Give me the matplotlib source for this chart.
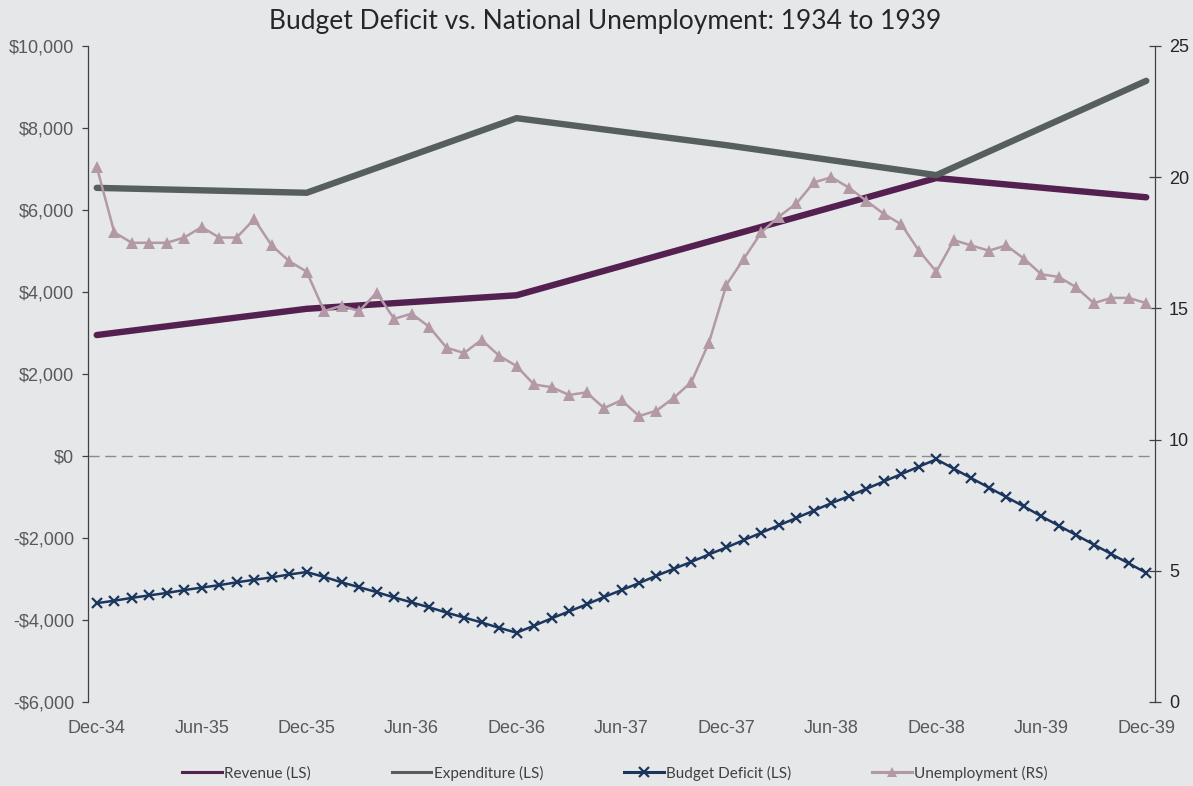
import matplotlib
matplotlib.use("Agg")
import matplotlib.pyplot as plt
from matplotlib.ticker import FuncFormatter, MultipleLocator
from matplotlib.lines import Line2D

# ---------------- data ----------------
month_labels = ["Dec-34", "Jun-35", "Dec-35", "Jun-36", "Dec-36", "Jun-37",
                "Dec-37", "Jun-38", "Dec-38", "Jun-39", "Dec-39"]
n_months = 61  # Dec-34 .. Dec-39 monthly

year_idx = [0, 12, 24, 36, 48, 60]          # Dec of each year (month index)
revenue = [2950, 3590, 3920, 5350, 6780, 6310]
expenditure = [6540, 6420, 8240, 7580, 6850, 9150]

deficit = [-3590, -3530, -3460, -3400, -3340, -3270, -3210, -3150, -3080, -3020, -2960, -2890,
           -2830, -2950, -3080, -3200, -3320, -3450, -3570, -3690, -3820, -3940, -4060, -4190,
           -4310, -4140, -3960, -3790, -3620, -3440, -3270, -3100, -2920, -2750, -2580, -2400,
           -2230, -2050, -1870, -1690, -1510, -1330, -1150, -980, -800, -620, -440, -260,
           -80, -310, -540, -770, -1000, -1230, -1470, -1700, -1930, -2160, -2390, -2620,
           -2850]

unemployment = [20.4, 17.9, 17.5, 17.5, 17.5, 17.7, 18.1, 17.7, 17.7, 18.4, 17.4, 16.8,
                16.4, 14.9, 15.1, 14.9, 15.6, 14.6, 14.8, 14.3, 13.5, 13.3, 13.8, 13.2,
                12.8, 12.1, 12.0, 11.7, 11.8, 11.2, 11.5, 10.9, 11.1, 11.6, 12.2, 13.7,
                15.9, 16.9, 17.9, 18.5, 19.0, 19.8, 20.0, 19.6, 19.1, 18.6, 18.2, 17.2,
                16.4, 17.6, 17.4, 17.2, 17.4, 16.9, 16.3, 16.2, 15.8, 15.2, 15.4, 15.4,
                15.2]

# ---------------- style ----------------
BG = "#E6E7E9"
C_REV = "#53204F"
C_EXP = "#575E5E"
C_DEF = "#1B365D"
C_UNE = "#B399A6"
TXT = "#595959"

fig = plt.figure(figsize=(11.93, 7.86), dpi=100, facecolor=BG)
ax = fig.add_axes([88/1193, 1-702/786, (1155-88)/1193, (702-46)/786])
ax.set_facecolor(BG)
ax2 = ax.twinx()
ax2.set_facecolor("none")

months = list(range(n_months))

ax.axhline(0, color="#8C8C8C", lw=1.0, ls=(0, (8, 4)), zorder=1)
l_rev, = ax.plot(year_idx, revenue, color=C_REV, lw=4.6, solid_capstyle="round", zorder=3)
l_exp, = ax.plot(year_idx, expenditure, color=C_EXP, lw=4.6, solid_capstyle="round", zorder=3)
l_def, = ax.plot(months, deficit, color=C_DEF, lw=1.8, marker="x", ms=7, mew=1.6, zorder=4)
l_une, = ax2.plot(months, unemployment, color=C_UNE, lw=1.8, marker="^", ms=8.5, mew=0, zorder=4)

ax.set_xlim(-0.5, 60.5)
ax.set_ylim(-6000, 10000)
ax2.set_ylim(0, 25)

ax.yaxis.set_major_locator(MultipleLocator(2000))
ax2.yaxis.set_major_locator(MultipleLocator(5))

def money(v, pos):
    v = int(round(v))
    if v < 0:
        return "-${:,}".format(-v)
    return "${:,}".format(v)

ax.yaxis.set_major_formatter(FuncFormatter(money))
ax.set_xticks(list(range(0, 61, 6)))
ax.set_xticklabels(month_labels)

for a in (ax, ax2):
    for s in ("top", "bottom"):
        a.spines[s].set_visible(False)
    a.spines["left"].set_visible(a is ax)
    a.spines["right"].set_visible(a is ax2)
ax.spines["left"].set_color("#404040")
ax2.spines["right"].set_color("#404040")
ax.spines["left"].set_linewidth(0.9)
ax2.spines["right"].set_linewidth(0.9)

ax.tick_params(axis="x", length=0, pad=13, labelsize=13, labelcolor=TXT)
ax.tick_params(axis="y", direction="out", length=4, width=0.9, color="#404040",
               pad=6, labelsize=13, labelcolor=TXT)
ax2.tick_params(axis="y", direction="inout", length=8, width=0.9, color="#404040",
                pad=6, labelsize=13, labelcolor="#262626")
for lab in ax.get_xticklabels() + ax.get_yticklabels() + ax2.get_yticklabels():
    lab.set_fontfamily("Liberation Sans")

fig.text(605/1193, 1-22/786, "Budget Deficit vs. National Unemployment: 1934 to 1939",
         ha="center", va="center", fontsize=19, color="#262626", family="Lato")

handles = [Line2D([], [], color=C_REV, lw=2.2),
           Line2D([], [], color=C_EXP, lw=2.2),
           Line2D([], [], color=C_DEF, lw=2.2, marker="x", ms=7, mew=1.6),
           Line2D([], [], color=C_UNE, lw=2.2, marker="^", ms=7, mew=0)]
labels = ["Revenue (LS)", "Expenditure (LS)", "Budget Deficit (LS)", "Unemployment (RS)"]
leg = fig.legend(handles, labels, loc="center", bbox_to_anchor=(615/1193, 1-773/786),
                 ncol=4, frameon=False, handlelength=2.6, handletextpad=0.15,
                 columnspacing=5.3, prop={"family": "Lato", "size": 11})
for t in leg.get_texts():
    t.set_color("#404040")

fig.savefig("out.png", dpi=100, facecolor=BG)
